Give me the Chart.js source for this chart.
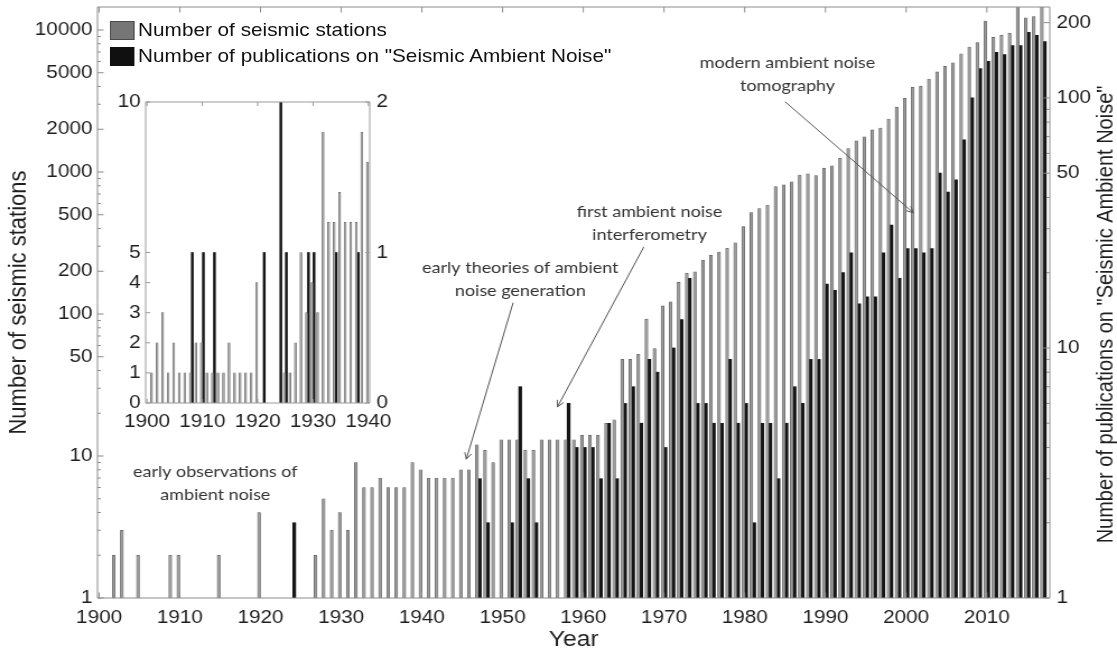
<!DOCTYPE html>
<html>
<head>
<meta charset="utf-8">
<title>Seismic stations and ambient noise publications</title>
<script src="https://cdn.jsdelivr.net/npm/chart.js@4.4.1/dist/chart.umd.min.js"></script>
<style>
  html, body { margin: 0; padding: 0; background: #fff; overflow: hidden; }
  /* the figure is drawn a little narrower and stretched out horizontally */
  #stage { position: relative; width: 997px; height: 655px; transform: scaleX(1.12036); transform-origin: 0 0; }
  #main { position: absolute; left: 0; top: 0; }
  #inset { position: absolute; left: 89px; top: 85px; }
  #legend { position: absolute; left: 98px; top: 21px; font: 18.5px 'Liberation Sans', Arial, sans-serif; color: #111; }
  .item { display: flex; align-items: center; height: 18.6px; margin-bottom: 7.4px; white-space: nowrap; }
  .swatch { width: 21.7px; height: 18.6px; box-sizing: border-box; margin-right: 3.6px; }
</style>
</head>
<body>
<div id="stage">
  <canvas id="main" width="997" height="655"></canvas>
  <canvas id="inset" width="268" height="355"></canvas>
  <div id="legend">
    <div class="item"><span class="swatch" style="background:#767676;border:1px solid #4a4a4a"></span>Number of seismic stations</div>
    <div class="item"><span class="swatch" style="background:#101010"></span>Number of publications on "Seismic Ambient Noise"</div>
  </div>
</div>
<script>
// seismic stations per year, 1900 - 2017
const stations = [
  0, 1, 2, 3, 1, 2, 1, 1, 1, 2,
  2, 1, 1, 1, 1, 2, 1, 1, 1, 1,
  4, 0, 0, 0, 0, 1, 1, 2, 5, 3,
  4, 3, 9, 6, 6, 7, 6, 6, 6, 9,
  8, 7, 7, 7, 7, 8, 8, 12, 11, 9,
  13, 13, 13, 11, 11, 13, 13, 13, 13, 13,
  14, 14, 14, 17, 18, 48, 48, 52, 92, 57,
  114, 122, 167, 194, 198, 240, 259, 273, 290, 317,
  413, 518, 553, 585, 789, 811, 854, 953, 970, 943,
  1065, 1105, 1250, 1460, 1655, 1770, 1980, 2040, 2360, 2860,
  3305, 3950, 4020, 4515, 5070, 5550, 5870, 6800, 7590, 8170,
  11570, 8870, 9200, 9500, 15000, 12200, 12450, 15000
];

// publications on "Seismic Ambient Noise" per year, 1900 - 2017
const pubs = [
  0, 0, 0, 0, 0, 0, 0, 0, 1, 0,
  1, 0, 1, 0, 0, 0, 0, 0, 0, 0,
  0, 1, 0, 0, 2, 1, 0, 0, 0, 1,
  1, 0, 0, 0, 1, 0, 0, 0, 1, 0,
  0, 0, 0, 0, 0, 0, 0, 3, 2, 1,
  1, 2, 7, 3, 2, 1, 1, 1, 6, 4,
  4, 4, 3, 5, 3, 6, 7, 5, 9, 8,
  4, 10, 13, 19, 6, 6, 5, 5, 9, 5,
  6, 2, 5, 5, 3, 5, 7, 6, 9, 9,
  18, 17, 20, 24, 15, 16, 16, 24, 31, 19,
  25, 25, 24, 25, 50, 42, 47, 68, 100, 131,
  140, 152, 149, 162, 162, 183, 178, 168
];

const years = stations.map((_, i) => 1900 + i);
const insetLastYear = 1940;

// axis ticks
const yearTicks = [1900, 1910, 1920, 1930, 1940, 1950, 1960, 1970, 1980, 1990, 2000, 2010];
const stationLabels = [1, 10, 50, 100, 200, 500, 1000, 2000, 5000, 10000];
const pubLabels = [1, 10, 50, 100, 200];
const insetYearTicks = [1900, 1910, 1920, 1930, 1940];
const insetStationTicks = [0, 1, 2, 3, 4, 5, 10];
const insetPubTicks = [0, 1, 2];

const SANS = "'Liberation Sans', Arial, Helvetica, sans-serif";
const INK = '#1e1e1e';

// 1,2,...,9,10,20,... up to the last value, for the log axes' minor ticks
function logTicks(top) {
  const out = [];
  for (let d = 1; d <= top; d *= 10) {
    for (let k = 1; k <= 9 && k * d <= top; k++) out.push(k * d);
  }
  return out;
}

// keep label overhang from shrinking the plot area
function fixSize(prop, size) {
  return s => {
    s[prop] = size;
    s.paddingTop = s.paddingBottom = s.paddingLeft = s.paddingRight = 0;
  };
}

// box around the plot area, with short tick marks pointing inwards
const frameTicks = {
  id: 'frameTicks',
  afterDatasetsDraw(chart, args, opts) {
    const { ctx, chartArea: a } = chart;
    ctx.save();
    ctx.strokeStyle = opts.color || '#8f8f8f';
    ctx.lineWidth = 1;
    ctx.beginPath();
    for (const scale of Object.values(chart.scales)) {
      for (const t of scale.ticks) {
        const len = t.label ? (opts.major || 5) : (opts.minor || 3);
        const p = scale.getPixelForValue(t.value);
        if (scale.axis === 'x') {
          if (p <= a.left + 1 || p >= a.right - 1) continue;
          ctx.moveTo(p, a.bottom); ctx.lineTo(p, a.bottom - len);
          ctx.moveTo(p, a.top); ctx.lineTo(p, a.top + len);
        } else if (scale.position === 'left') {
          ctx.moveTo(a.left, p); ctx.lineTo(a.left + len, p);
        } else {
          ctx.moveTo(a.right, p); ctx.lineTo(a.right - len, p);
        }
      }
    }
    ctx.rect(a.left, a.top, a.width, a.height);
    ctx.stroke();
    ctx.restore();
  }
};

// right hand axis title, reading bottom to top
const sideTitle = {
  id: 'sideTitle',
  afterDraw(chart, args, opts) {
    if (!opts.text) return;
    const { ctx, chartArea: a } = chart;
    ctx.save();
    ctx.translate(opts.x, (a.top + a.bottom) / 2 + (opts.dy || 0));
    ctx.rotate(-Math.PI / 2);
    ctx.font = opts.font;
    ctx.fillStyle = INK;
    ctx.textAlign = 'center';
    ctx.textBaseline = 'middle';
    ctx.fillText(opts.text, 0, 0);
    ctx.restore();
  }
};

// text notes with arrows, placed in year / station-count units
const noteLayer = {
  id: 'noteLayer',
  afterDatasetsDraw(chart, args, opts) {
    if (!opts.items) return;
    const { ctx, scales } = chart;
    const sx = scales.x, sy = scales.yL;
    ctx.save();
    ctx.font = opts.font;
    ctx.fillStyle = opts.color;
    ctx.strokeStyle = opts.arrowColor;
    ctx.lineWidth = 1;
    ctx.textAlign = 'center';
    ctx.textBaseline = 'middle';
    for (const n of opts.items) {
      const px = sx.getPixelForValue(n.at[0]);
      const py = sy.getPixelForValue(n.at[1]);
      n.lines.forEach((line, i) => ctx.fillText(line, px, py + i * opts.lineHeight));
      if (!n.arrow) continue;
      const [from, to] = n.arrow.map(([yr, v]) => [sx.getPixelForValue(yr), sy.getPixelForValue(v)]);
      const ang = Math.atan2(to[1] - from[1], to[0] - from[0]);
      ctx.beginPath();
      ctx.moveTo(from[0], from[1]);
      ctx.lineTo(to[0], to[1]);
      for (const s of [-1, 1]) {
        ctx.moveTo(to[0], to[1]);
        ctx.lineTo(to[0] - opts.head * Math.cos(ang + s * 0.45), to[1] - opts.head * Math.sin(ang + s * 0.45));
      }
      ctx.stroke();
    }
    ctx.restore();
  }
};

const tickFont = { family: SANS, size: 18.5 };
const titleFont = { family: SANS, size: 22 };
const noGrid = { display: false, drawTicks: false };

// main chart: stations on the left log axis, publications on the right one
new Chart(document.getElementById('main'), {
  type: 'bar',
  data: {
    datasets: [
      {
        label: 'Number of seismic stations',
        data: years.map((yr, i) => ({ x: yr, y: stations[i] > 1 ? stations[i] : null })),
        yAxisID: 'yL',
        backgroundColor: '#9c9c9c',
        borderColor: '#555',
        borderWidth: 0.6,
        barThickness: 2.6
      },
      {
        label: 'Number of publications on "Seismic Ambient Noise"',
        data: years.map((yr, i) => ({ x: yr, y: pubs[i] > 1 ? pubs[i] : null })),
        yAxisID: 'yR',
        backgroundColor: '#151515',
        barThickness: 2.6
      }
    ]
  },
  options: {
    responsive: false,
    animation: false,
    events: [],
    layout: { padding: { top: 7, left: 0, right: 0, bottom: 0 } },
    plugins: {
      legend: { display: false },
      tooltip: { enabled: false },
      frameTicks: { color: '#8c8c8c', major: 5.5, minor: 3 },
      sideTitle: {
        text: 'Number of publications on "Seismic Ambient Noise"',
        x: 987, dy: 12, font: `20px ${SANS}`
      },
      noteLayer: {
        font: "16px Lato, 'Open Sans', sans-serif",
        color: '#333',
        arrowColor: '#555',
        lineHeight: 23,
        head: 7,
        items: [
          { lines: ['early observations of', 'ambient noise'], at: [1914.4, 7.7] },
          { lines: ['early theories of ambient', 'noise generation'], at: [1952.2, 211],
            arrow: [[1951.3, 120], [1945.5, 9.5]] },
          { lines: ['first ambient noise', 'interferometry'], at: [1968.2, 523],
            arrow: [[1967.5, 297], [1956.8, 22.2]] },
          { lines: ['modern ambient noise', 'tomography'], at: [1985.3, 5830],
            arrow: [[1985.0, 3127], [2000.9, 516]] }
        ]
      }
    },
    scales: {
      x: {
        type: 'linear',
        min: 1899.8,
        max: 2017.8,
        offset: false,
        grid: noGrid,
        border: { display: false },
        afterBuildTicks: s => { s.ticks = yearTicks.map(v => ({ value: v })); },
        afterFit: fixSize('height', 57),
        ticks: { font: tickFont, color: INK, padding: 9, autoSkip: false, maxRotation: 0, callback: v => String(v) },
        title: { display: true, text: 'Year', font: titleFont, color: INK, padding: { top: 0, bottom: 2 } }
      },
      yL: {
        type: 'logarithmic',
        position: 'left',
        min: 1,
        max: 14520,
        grid: noGrid,
        border: { display: false },
        afterBuildTicks: s => { s.ticks = logTicks(10000).map(v => ({ value: v })); },
        afterFit: fixSize('width', 87),
        ticks: {
          font: tickFont, color: INK, padding: 4.5, autoSkip: false,
          callback: v => stationLabels.includes(v) ? String(v) : ''
        },
        title: { display: true, text: 'Number of seismic stations', font: titleFont, color: INK, padding: { top: 4, bottom: 0 } }
      },
      yR: {
        type: 'logarithmic',
        position: 'right',
        min: 1,
        max: 231,
        grid: noGrid,
        border: { display: false },
        afterBuildTicks: s => { s.ticks = logTicks(200).map(v => ({ value: v })); },
        afterFit: fixSize('width', 60),
        ticks: {
          font: tickFont, color: INK, padding: 6, autoSkip: false,
          callback: v => pubLabels.includes(v) ? String(v) : ''
        }
      }
    }
  },
  plugins: [frameTicks, sideTitle, noteLayer]
});

// inset: the early years on linear axes
const early = years.filter(yr => yr <= insetLastYear);

new Chart(document.getElementById('inset'), {
  type: 'bar',
  data: {
    datasets: [
      {
        label: 'Number of seismic stations',
        data: early.map((yr, i) => ({ x: yr, y: stations[i] > 0 ? stations[i] : null })),
        yAxisID: 'yL',
        backgroundColor: '#a8a8a8',
        borderColor: '#5a5a5a',
        borderWidth: 0.5,
        barThickness: 1.8
      },
      {
        label: 'Number of publications on "Seismic Ambient Noise"',
        data: early.map((yr, i) => ({ x: yr, y: pubs[i] > 0 ? pubs[i] : null })),
        yAxisID: 'yR',
        backgroundColor: '#151515',
        barThickness: 1.8
      }
    ]
  },
  options: {
    responsive: false,
    animation: false,
    events: [],
    layout: { padding: { top: 17, left: 0, right: 0, bottom: 0 } },
    plugins: {
      legend: { display: false },
      tooltip: { enabled: false },
      frameTicks: { color: '#9a9a9a', major: 4, minor: 4 }
    },
    scales: {
      x: {
        type: 'linear',
        min: 1899.75,
        max: 1940.25,
        offset: false,
        grid: noGrid,
        border: { display: false },
        afterBuildTicks: s => { s.ticks = insetYearTicks.map(v => ({ value: v })); },
        afterFit: fixSize('height', 37),
        ticks: { font: tickFont, color: INK, padding: 8, autoSkip: false, maxRotation: 0, callback: v => String(v) }
      },
      yL: {
        type: 'linear',
        position: 'left',
        min: 0,
        max: 10,
        grid: noGrid,
        border: { display: false },
        afterBuildTicks: s => { s.ticks = insetStationTicks.map(v => ({ value: v })); },
        afterFit: fixSize('width', 41),
        ticks: { font: tickFont, color: INK, padding: 4.5, autoSkip: false, callback: v => String(v) }
      },
      yR: {
        type: 'linear',
        position: 'right',
        min: 0,
        max: 2,
        grid: noGrid,
        border: { display: false },
        afterBuildTicks: s => { s.ticks = insetPubTicks.map(v => ({ value: v })); },
        afterFit: fixSize('width', 27),
        ticks: { font: tickFont, color: INK, padding: 6, autoSkip: false, callback: v => String(v) }
      }
    }
  },
  plugins: [frameTicks]
});
</script>
</body>
</html>
